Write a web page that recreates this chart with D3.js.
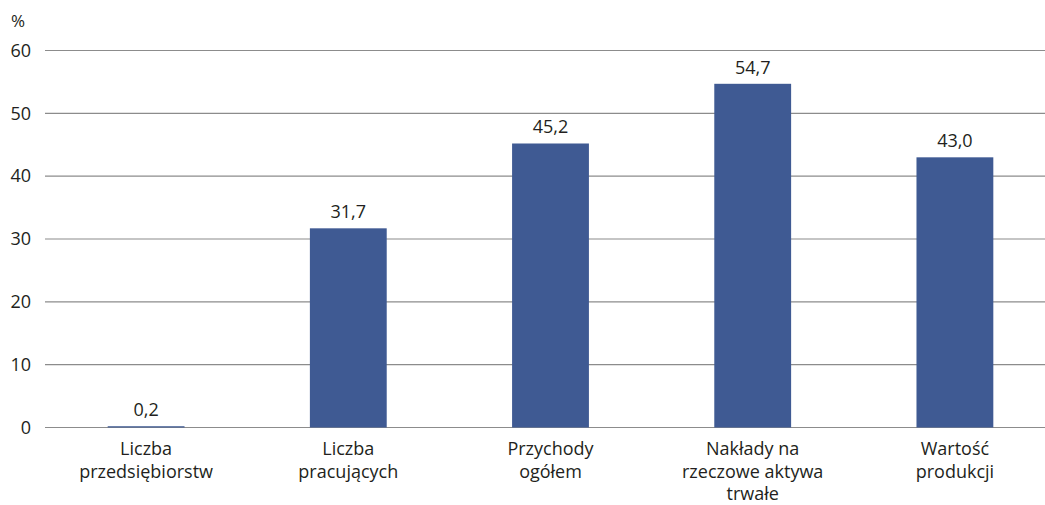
<!DOCTYPE html>
<html>
<head>
<meta charset="utf-8">
<script src="https://cdn.jsdelivr.net/npm/d3@7"></script>
<style>
  body { margin: 0; background: #fff; }
  svg text { font-family: "Open Sans", sans-serif; fill: #231f20; }
</style>
</head>
<body>
<svg id="chart" width="1045" height="505"></svg>
<script>
// categories, one entry per bar, lines split as in the source
const categories = [
	['Liczba', 'przedsiębiorstw'],
	['Liczba', 'pracujących'],
	['Przychody', 'ogółem'],
	['Nakłady na', 'rzeczowe aktywa', 'trwałe'],
	['Wartość', 'produkcji']
]
const values = [0.2, 31.7, 45.2, 54.7, 43.0]
const yTicks = [0, 10, 20, 30, 40, 50, 60]
const unitLabel = '%'

const barColor = '#3f5a93'
const gridColor = '#8c8c8c'
const fontSize = 18

const svg = d3.select('#chart')

const x = d3.scaleBand()
	.domain(d3.range(values.length))
	.range([45, 1056])
	.paddingInner(0.62)
	.paddingOuter(0.31)

const y = d3.scaleLinear()
	.domain([0, 60])
	.range([427.5, 50.5])

// gridlines
svg.append('g')
	.selectAll('line')
	.data(yTicks)
	.join('line')
	.attr('x1', 45)
	.attr('x2', 1045)
	.attr('y1', d => y(d))
	.attr('y2', d => y(d))
	.attr('stroke', gridColor)
	.attr('stroke-width', 1.2)

// y axis labels
const yAxis = svg.append('g')
	.attr('transform', 'translate(31,0)')
	.call(d3.axisLeft(y).tickValues(yTicks).tickSize(0).tickPadding(0).tickFormat(d3.format('d')))
yAxis.select('.domain').remove()
yAxis.selectAll('text')
	.attr('font-size', fontSize)
	.attr('font-family', '"Open Sans", sans-serif')
	.attr('fill', '#231f20')

svg.append('text')
	.attr('x', 11)
	.attr('y', 27)
	.attr('font-size', fontSize - 1)
	.text(unitLabel)

// bars
svg.append('g')
	.selectAll('rect')
	.data(values)
	.join('rect')
	.attr('x', (d, i) => x(i))
	.attr('y', d => y(d))
	.attr('width', x.bandwidth())
	.attr('height', d => y(0) - y(d))
	.attr('fill', barColor)

// value labels
const fmt = d => d3.format('.1f')(d).replace('.', ',')
svg.append('g')
	.selectAll('text')
	.data(values)
	.join('text')
	.attr('x', (d, i) => x(i) + x.bandwidth() / 2)
	.attr('y', d => y(d) - 10)
	.attr('text-anchor', 'middle')
	.attr('font-size', fontSize)
	.text(fmt)

// category labels
const cat = svg.append('g')
	.selectAll('text')
	.data(categories)
	.join('text')
	.attr('text-anchor', 'middle')
	.attr('font-size', fontSize)
	.attr('x', (d, i) => x(i) + x.bandwidth() / 2)
	.attr('y', 455)

cat.selectAll('tspan')
	.data(d => d)
	.join('tspan')
	.attr('x', function () { return d3.select(this.parentNode).attr('x') })
	.attr('dy', (d, i) => i === 0 ? 0 : 22.5)
	.text(d => d)
</script>
</body>
</html>
